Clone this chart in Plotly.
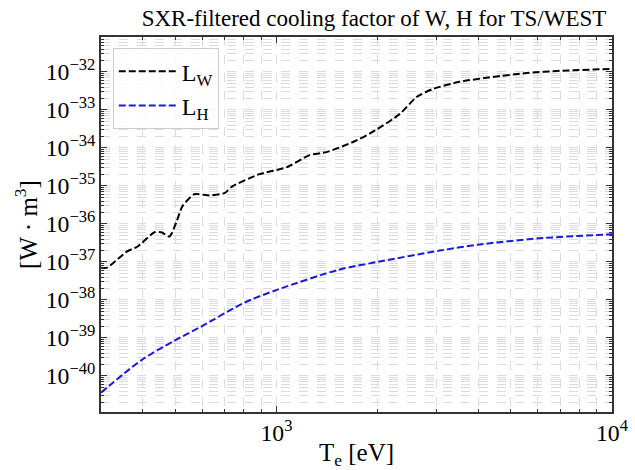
import plotly.graph_objects as go
import numpy as np

# Tungsten (W) cooling factor
te_w = [300, 313, 359, 385, 433, 454, 480, 503, 524, 569, 631, 700, 739, 890, 1071,
        1255, 1410, 1686, 1935, 2328, 2616, 2922, 3516, 4414, 5572, 6994, 10000]
log_lw = [-37.15, -37.15, -36.72, -36.60, -36.22, -36.22, -36.33, -35.96, -35.54, -35.22,
          -35.25, -35.19, -35.01, -34.69, -34.51, -34.19, -34.11, -33.85, -33.58, -33.11,
          -32.66, -32.45, -32.26, -32.13, -32.03, -31.97, -31.92]

# Hydrogen (H) cooling factor
te_h = [300, 398, 497, 597, 803, 1007, 1542, 2029, 3069, 4042, 6061, 10000]
log_lh = [-40.44, -39.57, -39.07, -38.70, -38.07, -37.73, -37.20, -36.99, -36.70,
          -36.54, -36.38, -36.27]

lw = [10 ** v for v in log_lw]
lh = [10 ** v for v in log_lh]

FONT = "Liberation Serif, Times New Roman, serif"

fig = go.Figure()
fig.add_trace(go.Scatter(x=te_w, y=lw, mode="lines", name="L<sub>W</sub>",
                         line=dict(color="black", width=2, dash="7px,3px", shape="spline", smoothing=0.6)))
fig.add_trace(go.Scatter(x=te_h, y=lh, mode="lines", name="L<sub>H</sub>",
                         line=dict(color="#1a1adf", width=2, dash="7px,3px", shape="spline", smoothing=0.8)))

grid = "#dcdcdc"
axis_common = dict(
    type="log", showline=True, linecolor="#333333", linewidth=1.5, mirror="ticks",
    ticks="inside", ticklen=6, tickcolor="#333333", tickwidth=1,
    showgrid=True, gridcolor=grid, griddash="dash", gridwidth=1,
    exponentformat="power", zeroline=False, tickfont=dict(size=19), automargin=False,
    minor=dict(dtick="D1", ticks="inside", ticklen=3, tickcolor="#333333", showgrid=True,
               gridcolor=grid, griddash="dash", gridwidth=1),
)

fig.update_layout(
    width=635, height=470,
    margin=dict(l=101, r=23, t=37, b=58),
    plot_bgcolor="white", paper_bgcolor="white",
    font=dict(family=FONT, color="black", size=19),
    title=dict(text="SXR-filtered cooling factor of W, H for TS/WEST",
               x=(374 - 101) / 511, xref="paper", xanchor="center", y=0.962, yanchor="middle",
               font=dict(size=23, family=FONT)),
    xaxis=dict(range=[np.log10(300), 4], dtick=1,
               title=dict(text="T<sub>e</sub> [eV]", font=dict(size=25), standoff=8),
               **axis_common),
    yaxis=dict(range=[-40.95, -31.08], dtick=1,
               title=dict(text="[W · m<sup>3</sup>]", font=dict(size=25), standoff=1),
               **axis_common),
    legend=dict(x=0.023, y=0.97, xanchor="left", yanchor="top",
                bgcolor="rgba(255,255,255,0.85)", bordercolor="#cccccc", borderwidth=1,
                font=dict(size=24, family=FONT), itemwidth=58, tracegroupgap=6),
    showlegend=True,
)

fig.write_html("out.html")
